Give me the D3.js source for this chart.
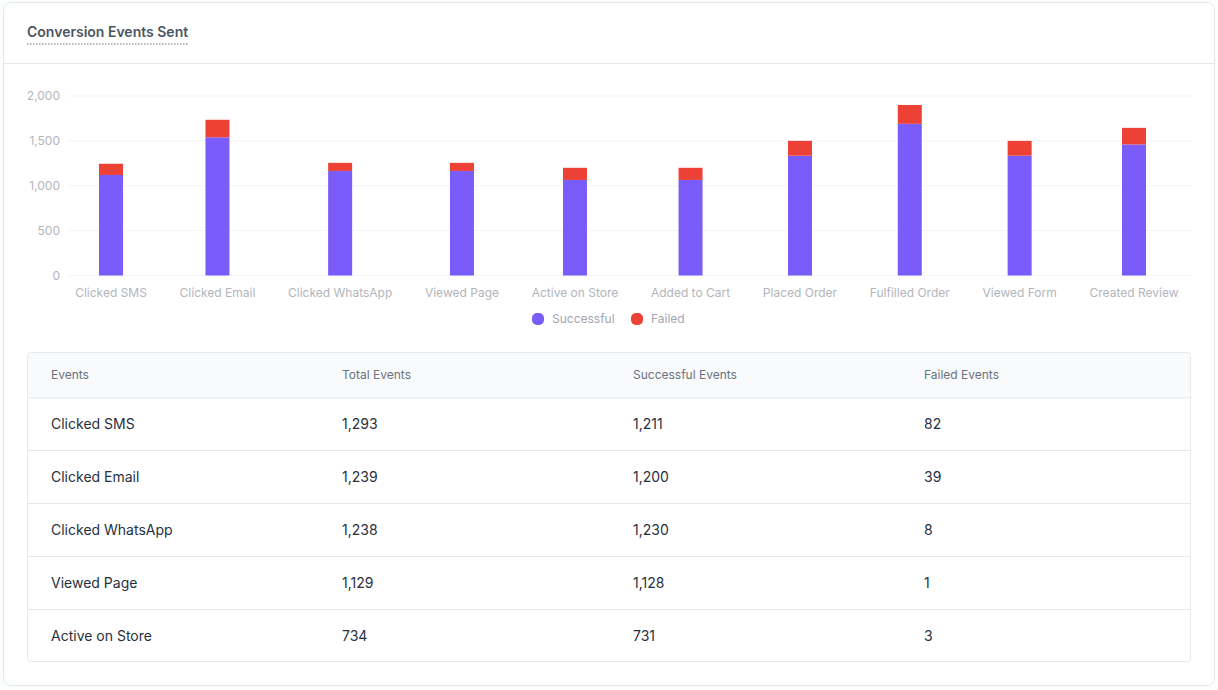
<!DOCTYPE html>
<html>
<head>
<meta charset="utf-8">
<script src="https://cdn.jsdelivr.net/npm/d3@7"></script>
<style>
  html, body { margin: 0; padding: 0; background: #fbfcfc; }
  svg { display: block; font-family: Inter, "Noto Sans", sans-serif; }
  .domain { display: none; }
</style>
</head>
<body>
<div id="chart"></div>
<script>
const events = ['Clicked SMS', 'Clicked Email', 'Clicked WhatsApp', 'Viewed Page', 'Active on Store',
                'Added to Cart', 'Placed Order', 'Fulfilled Order', 'Viewed Form', 'Created Review'];
const successful = [1120, 1540, 1165, 1165, 1065, 1065, 1335, 1690, 1335, 1460];
const failed = [125, 195, 90, 90, 135, 135, 165, 210, 165, 185];
const yTicks = [0, 500, 1000, 1500, 2000];

const legendLabels = ['Successful', 'Failed'];
const legendColors = ['#7a5cfa', '#ee4136'];

const columns = ['Events', 'Total Events', 'Successful Events', 'Failed Events'];
const rowNames = ['Clicked SMS', 'Clicked Email', 'Clicked WhatsApp', 'Viewed Page', 'Active on Store'];
const rowTotal = ['1,293', '1,239', '1,238', '1,129', '734'];
const rowSuccess = ['1,211', '1,200', '1,230', '1,128', '731'];
const rowFailed = ['82', '39', '8', '1', '3'];

const width = 1218;
const height = 690;

const svg = d3.select('#chart').append('svg')
    .attr('width', width)
    .attr('height', height);

// card
svg.append('rect')
    .attr('x', 3.5).attr('y', 2.5)
    .attr('width', 1211).attr('height', 683)
    .attr('rx', 8)
    .attr('fill', '#fff')
    .attr('stroke', '#e3e9ec');

svg.append('line')
    .attr('x1', 4).attr('x2', 1214)
    .attr('y1', 63.5).attr('y2', 63.5)
    .attr('stroke', '#e5e9ee');

svg.append('text')
    .attr('x', 27).attr('y', 37)
    .attr('font-size', 14).attr('font-weight', 600)
    .attr('fill', '#4b5563')
    .text('Conversion Events Sent');

svg.append('line')
    .attr('x1', 27).attr('x2', 189)
    .attr('y1', 44).attr('y2', 44)
    .attr('stroke', '#6b7280')
    .attr('stroke-dasharray', '1.5 1.5');

// chart
const y = d3.scaleLinear().domain([0, 2000]).range([275.5, 96]);

const yAxis = svg.append('g')
    .attr('transform', 'translate(60,0)')
    .call(d3.axisLeft(y).tickValues(yTicks).tickSize(0).tickPadding(0).tickFormat(d3.format(',')));
yAxis.selectAll('text')
    .attr('font-family', 'Inter')
    .attr('font-size', 12)
    .attr('fill', '#b2b5bb');

svg.append('g')
    .selectAll('line')
    .data(yTicks)
    .join('line')
    .attr('x1', 68).attr('x2', 1192)
    .attr('y1', d => y(d)).attr('y2', d => y(d))
    .attr('stroke', '#f3f4f6');

// the labels sit with equal gaps between them, so the bars are not evenly spaced
const xLabels = svg.append('g')
    .selectAll('text')
    .data(events)
    .join('text')
    .attr('y', 297)
    .attr('text-anchor', 'middle')
    .attr('font-size', 12)
    .attr('fill', '#b2b5bb')
    .text(d => d);

const labelWidths = [];
xLabels.each(function() { labelWidths.push(this.getComputedTextLength()); });
const gap = 33;
const offsets = [];
let run = 0;
labelWidths.forEach(w => {
    offsets.push(run + w / 2);
    run += w + gap;
});
const x = d3.scaleLinear()
    .domain([offsets[0], offsets[offsets.length - 1]])
    .range([111, 1134]);
xLabels.attr('x', (d, i) => x(offsets[i]));

const barData = events.map((d, i) => ({ index: i, Successful: successful[i], Failed: failed[i] }));
const stacked = d3.stack().keys(legendLabels)(barData);
const color = d3.scaleOrdinal().domain(legendLabels).range(legendColors);
const barWidth = 24;

svg.append('g')
    .selectAll('g')
    .data(stacked)
    .join('g')
    .attr('fill', d => color(d.key))
    .selectAll('rect')
    .data(d => d)
    .join('rect')
    .attr('x', d => x(offsets[d.data.index]) - barWidth / 2)
    .attr('y', d => y(d[1]))
    .attr('width', barWidth)
    .attr('height', d => y(d[0]) - y(d[1]));

// legend
const legendX = d3.scaleOrdinal().domain(legendLabels).range([532, 631]);
const legend = svg.append('g')
    .selectAll('g')
    .data(legendLabels)
    .join('g')
    .attr('transform', d => `translate(${legendX(d)},319)`);
legend.append('rect')
    .attr('y', -6)
    .attr('width', 12).attr('height', 12)
    .attr('rx', 5)
    .attr('fill', d => color(d));
legend.append('text')
    .attr('x', 20).attr('y', 4)
    .attr('font-size', 12)
    .attr('fill', '#a2a6af')
    .text(d => d);

// table
const tableTop = 352.5;
const tableBottom = 661.5;
const rowLines = [398, 450.5, 503.5, 556.5, 609.5];
const rowMiddles = [424, 477, 530, 583, 636];
const colX = d3.scalePoint().domain(columns).range([51, 924]);

svg.append('path')
    .attr('d', `M27.5,${rowLines[0]}V${tableTop + 3}a3,3 0 0 1 3,-3H1187.5a3,3 0 0 1 3,3V${rowLines[0]}Z`)
    .attr('fill', '#f8fafb');

svg.append('rect')
    .attr('x', 27.5).attr('y', tableTop)
    .attr('width', 1163).attr('height', tableBottom - tableTop)
    .attr('rx', 3)
    .attr('fill', 'none')
    .attr('stroke', '#e5e9ee');

svg.append('g')
    .selectAll('line')
    .data(rowLines)
    .join('line')
    .attr('x1', 28).attr('x2', 1190)
    .attr('y1', d => d).attr('y2', d => d)
    .attr('stroke', '#e5e9ee');

svg.append('g')
    .selectAll('text')
    .data(columns)
    .join('text')
    .attr('x', d => colX(d))
    .attr('y', 379)
    .attr('font-size', 12)
    .attr('fill', '#6b7280')
    .text(d => d);

const rowColumns = [rowNames, rowTotal, rowSuccess, rowFailed];
svg.append('g')
    .selectAll('g')
    .data(rowColumns)
    .join('g')
    .attr('transform', (d, i) => `translate(${colX(columns[i])},0)`)
    .selectAll('text')
    .data(d => d)
    .join('text')
    .attr('y', (d, i) => rowMiddles[i] + 5)
    .attr('font-size', 14)
    .attr('fill', '#27303d')
    .text(d => d);
</script>
</body>
</html>
